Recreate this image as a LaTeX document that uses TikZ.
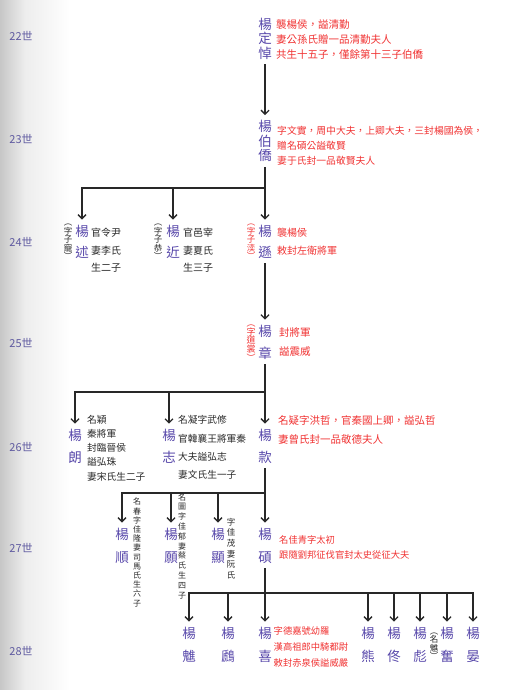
\documentclass[tikz,border=0pt]{standalone}
\usepackage{fontspec}
\setmainfont{Noto Sans CJK TC}
\usetikzlibrary{arrows.meta}
\definecolor{nm}{RGB}{88,72,170}
\definecolor{rd}{RGB}{240,50,50}
\definecolor{bk}{RGB}{40,40,40}
\definecolor{gencol}{RGB}{95,90,160}
\begin{document}
\begin{tikzpicture}[x=1pt,y=-1pt,
  pname/.style={text=nm,font=\fontsize{13.5}{#1}\selectfont,align=center,inner xsep=0.5pt,inner ysep=5pt},
  genlbl/.style={text=gencol,font=\fontsize{11}{11}\selectfont,inner sep=0pt},
  rnote/.style={text=rd,anchor=west,align=left,inner sep=0pt},
  bnote/.style={text=bk,anchor=west,align=left,inner sep=0pt},
  vnote/.style={text=bk,align=center,inner sep=0pt},
  ln/.style={draw=bk,line width=1.3pt},
  arr/.style={draw=bk,line width=1.3pt,-{Straight Barb[length=4pt,width=8pt,line width=1.3pt]}}]
\useasboundingbox (0,0) rectangle (506,690);
\shade[left color=black!22,right color=black!7] (0,0) rectangle (25,690);
\shade[left color=black!7,right color=white] (25,0) rectangle (70,690);

% generation labels
\node[genlbl] (g22) at (21,36) {22世};
\node[genlbl] (g23) at (21,139) {23世};
\node[genlbl] (g24) at (21,242) {24世};
\node[genlbl] (g25) at (21,343) {25世};
\node[genlbl] (g26) at (21,447) {26世};
\node[genlbl] (g27) at (21,548) {27世};
\node[genlbl] (g28) at (21,651) {28世};

% 22
\node[pname=14.5] (p22) at (265,38.5) {楊\\定\\悼};
\node[rnote,font=\fontsize{10.5}{15}\selectfont] (r22) at (276,40) {襲楊侯，謚清勤\\妻公孫氏贈一品清勤夫人\\共生十五子，僅餘第十三子伯僑};

% 23
\node[pname=14.5] (p23) at (265,141) {楊\\伯\\僑};
\node[rnote,font=\fontsize{9.8}{15}\selectfont] (r23) at (277,146) {字文實，周中大夫，上卿大夫，三封楊國為侯，\\贈名碩公謚敬賢\\妻于氏封一品敬賢夫人};
\draw[arr] (p22) -- (p23);

% 24
\coordinate (b23) at (265,188);
\draw[ln] (p23) -- (b23);
\node[pname=21] (p24a) at (82,241.5) {楊\\述};
\node[pname=21] (p24b) at (173,241.5) {楊\\近};
\node[pname=21] (p24c) at (265,241.5) {楊\\遜};
\draw[arr] (b23) -| (p24a);
\draw[arr] (b23) -| (p24b);
\draw[arr] (b23) -- (p24c);
\node[vnote,font=\fontsize{8.5}{8.5}\selectfont] (z24a) at (68,242) {︵\\字\\子\\寵\\︶};
\node[vnote,font=\fontsize{8.5}{8.5}\selectfont] (z24b) at (158,242) {︵\\字\\子\\恭\\︶};
\node[vnote,text=rd,font=\fontsize{8.5}{8.5}\selectfont] (z24c) at (251,242) {︵\\字\\子\\湙\\︶};
\node[bnote,font=\fontsize{10}{17.5}\selectfont] (t24a) at (91,250.5) {官令尹\\妻李氏\\生二子};
\node[bnote,font=\fontsize{10}{17.5}\selectfont] (t24b) at (183,250.5) {官邑宰\\妻夏氏\\生三子};
\node[rnote,font=\fontsize{10}{18}\selectfont] (r24) at (277,242) {襲楊侯\\敕封左衛將軍};

% 25
\node[pname=22] (p25) at (265,342) {楊\\章};
\draw[arr] (p24c) -- (p25);
\node[vnote,text=rd,font=\fontsize{9}{8.8}\selectfont] (z25) at (251,343) {︵\\字\\道\\裳\\︶};
\node[rnote,font=\fontsize{10.5}{19}\selectfont] (r25) at (279,342.5) {封將軍\\謚震威};

% 26
\coordinate (b25) at (265,392);
\draw[ln] (p25) -- (b25);
\node[pname=22] (p26a) at (75,446) {楊\\朗};
\node[pname=22] (p26b) at (169,446) {楊\\志};
\node[pname=22] (p26c) at (265,446) {楊\\款};
\draw[arr] (b25) -| (p26a);
\draw[arr] (b25) -| (p26b);
\draw[arr] (b25) -- (p26c);
\node[bnote,font=\fontsize{9.7}{14.2}\selectfont] (t26a) at (87,448) {名穎\\秦將軍\\封臨晉侯\\謚弘珠\\妻宋氏生二子};
\node[bnote,font=\fontsize{9.7}{18.3}\selectfont] (t26b) at (178,447.5) {名凝字武修\\官韓襄王將軍秦\\大夫謚弘志\\妻文氏生一子};
\node[rnote,font=\fontsize{10.5}{19}\selectfont] (r26) at (278,430) {名疑字洪哲，官秦國上卿，謚弘哲\\妻曾氏封一品敬德夫人};

% 27
\coordinate (b26) at (265,493);
\draw[ln] (p26c) -- (b26);
\node[pname=23] (p27a) at (122,545.5) {楊\\順};
\node[pname=23] (p27b) at (171,545.5) {楊\\願};
\node[pname=23] (p27c) at (218,545.5) {楊\\顯};
\node[pname=23] (p27d) at (265,545.5) {楊\\碩};
\draw[arr] (b26) -| (p27a);
\draw[arr] (b26) -| (p27b);
\draw[arr] (b26) -| (p27c);
\draw[arr] (b26) -- (p27d);
\node[vnote,font=\fontsize{8}{9.2}\selectfont] (v27a) at (137,552.5) {名\\春\\字\\佳\\隆\\妻\\司\\馬\\氏\\生\\六\\子};
\node[vnote,font=\fontsize{8}{9.8}\selectfont] (v27b) at (182,546) {名\\圖\\字\\佳\\郁\\妻\\蔡\\氏\\生\\四\\子};
\node[vnote,font=\fontsize{8.5}{10.6}\selectfont] (v27c) at (231,548.5) {字\\佳\\茂\\妻\\阮\\氏};
\node[rnote,font=\fontsize{9.3}{15}\selectfont] (r27) at (279,547) {名佳青字太初\\跟隨劉邦征伐官封太史從征大夫};

% 28
\coordinate (b27) at (265,593);
\draw[ln] (p27d) -- (b27);
\node[pname=23] (p28a) at (189,644.5) {楊\\魋};
\node[pname=23] (p28b) at (228,644.5) {楊\\鷉};
\node[pname=23] (p28c) at (265,644.5) {楊\\喜};
\node[pname=23] (p28d) at (368,644.5) {楊\\熊};
\node[pname=23] (p28e) at (394,644.5) {楊\\佟};
\node[pname=23] (p28f) at (420,644.5) {楊\\彪};
\node[pname=23] (p28g) at (447,644.5) {楊\\奮};
\node[pname=23] (p28h) at (473,644.5) {楊\\晏};
\draw[arr] (b27) -| (p28a);
\draw[arr] (b27) -| (p28b);
\draw[arr] (b27) -- (p28c);
\draw[arr] (b27) -| (p28d);
\draw[arr] (b27) -| (p28e);
\draw[arr] (b27) -| (p28f);
\draw[arr] (b27) -| (p28g);
\draw[arr] (b27) -| (p28h);
\node[rnote,font=\fontsize{9.3}{16}\selectfont] (r28) at (273.5,647) {字德嘉號幼羅\\漢高祖郎中騎都尉\\敕封赤泉侯謚威嚴};
\node[vnote,font=\fontsize{8.5}{8.5}\selectfont] (z28) at (434,646) {︵\\名\\魋\\︶};
\end{tikzpicture}
\end{document}
